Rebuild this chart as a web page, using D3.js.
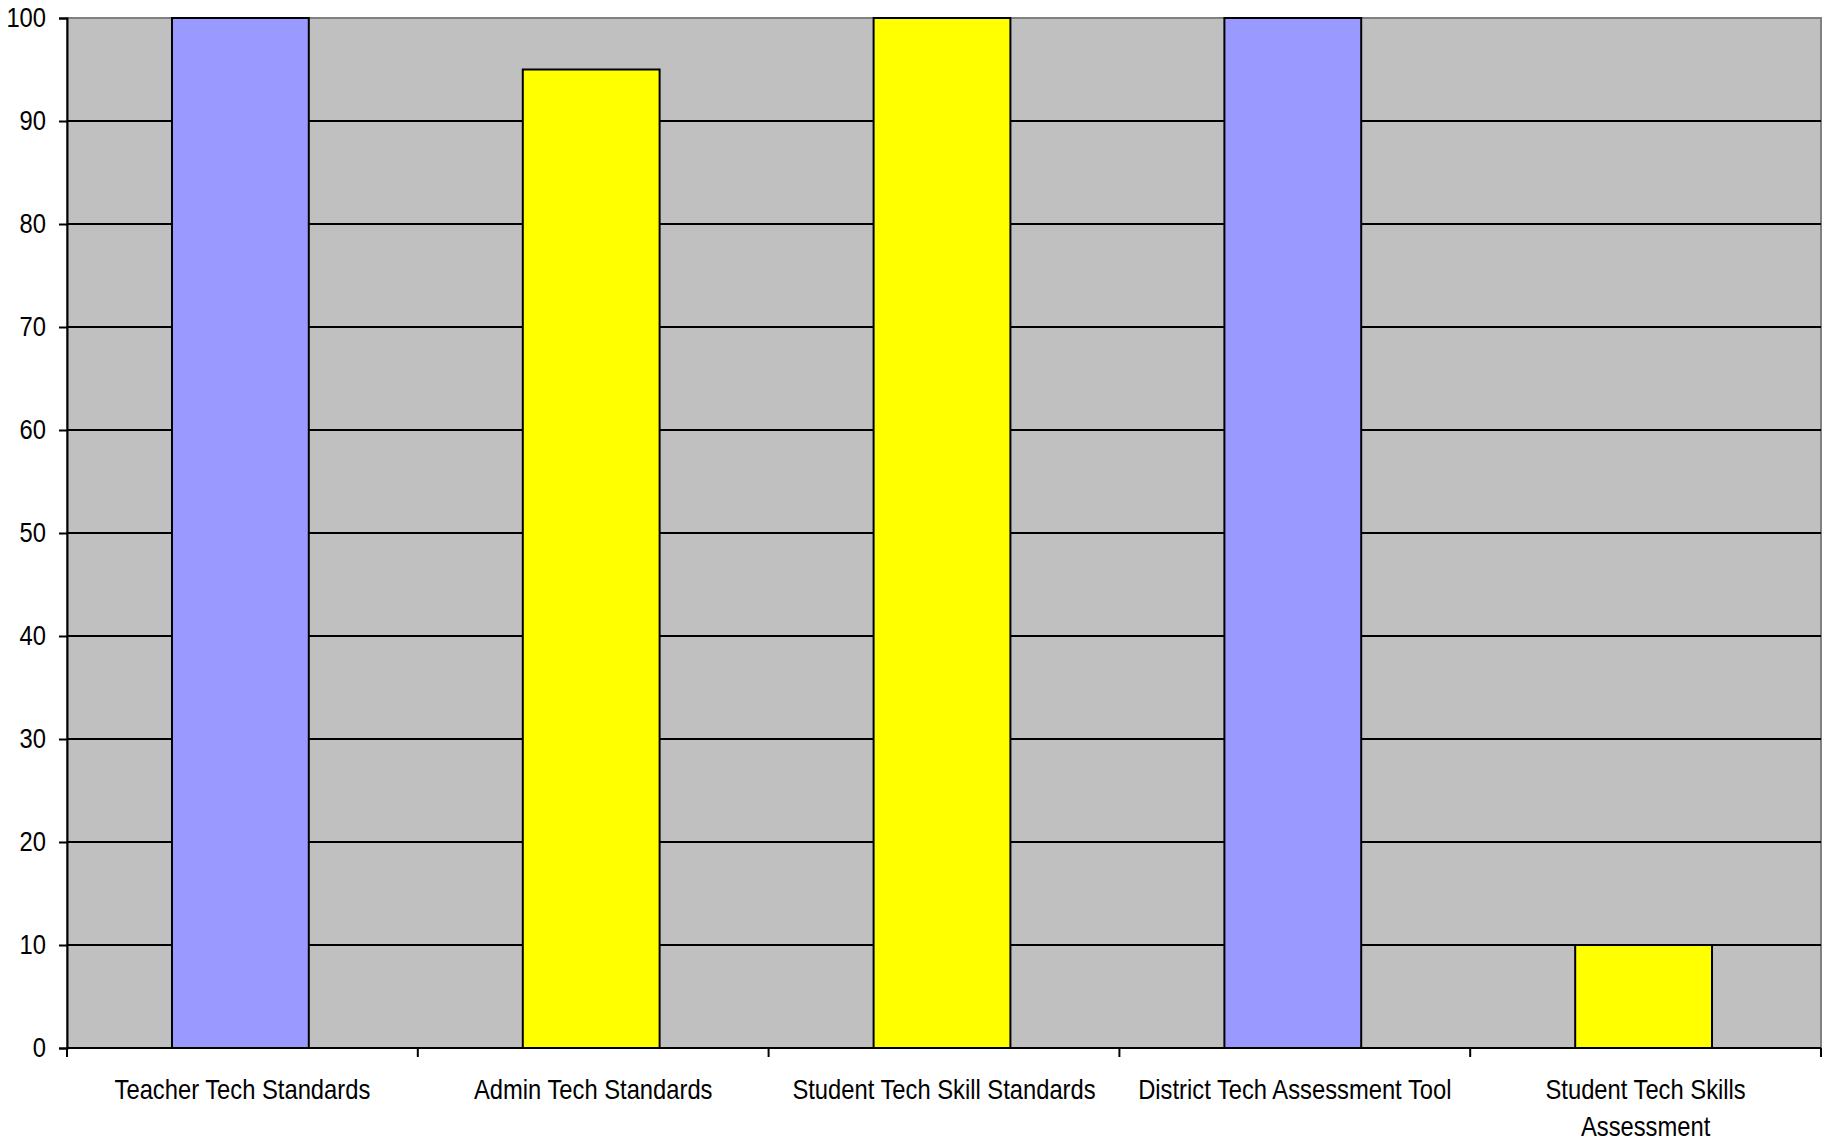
<!DOCTYPE html>
<html>
<head>
<meta charset="utf-8">
<script src="https://cdn.jsdelivr.net/npm/d3@7"></script>
<style>
	body { margin: 0; background: #fff; }
	text { font-family: "Liberation Sans", Arial, sans-serif; fill: #000; }
</style>
</head>
<body>
<svg id="chart"></svg>
<script>
const categories = [
	["Teacher Tech Standards"],
	["Admin Tech Standards"],
	["Student Tech Skill Standards"],
	["District Tech Assessment Tool"],
	["Student Tech Skills", "Assessment"]
];
const values = [100, 95, 100, 100, 10];
const barColors = ["#9999ff", "#ffff00", "#ffff00", "#9999ff", "#ffff00"];
const yTicks = [0, 10, 20, 30, 40, 50, 60, 70, 80, 90, 100];

const w = 1825, h = 1142;
const mLeft = 67, mRight = 1821, mTop = 18, mBottom = 1048;
const squeeze = 0.88; // the original font is narrow

const svg = d3.select("#chart")
	.attr("width", w)
	.attr("height", h);

const x = d3.scaleBand()
	.domain(d3.range(categories.length))
	.range([mLeft, mRight])
	.padding(0);

const y = d3.scaleLinear()
	.domain([0, 100])
	.range([mBottom, mTop]);

// plot background
svg.append("rect")
	.attr("x", mLeft)
	.attr("y", mTop)
	.attr("width", mRight - mLeft)
	.attr("height", mBottom - mTop)
	.attr("fill", "#c0c0c0")
	.attr("stroke", "#808080")
	.attr("stroke-width", 2);

// gridlines
svg.append("g")
	.selectAll("line")
	.data(yTicks.filter(d => d > 0 && d < 100))
	.enter()
	.append("line")
	.attr("x1", mLeft)
	.attr("x2", mRight)
	.attr("y1", d => y(d))
	.attr("y2", d => y(d))
	.attr("stroke", "#000")
	.attr("stroke-width", 2);

// bars
const bw = x.bandwidth() * 0.39;
svg.append("g")
	.selectAll("rect")
	.data(values)
	.enter()
	.append("rect")
	.attr("x", (d, i) => x(i) + (x.bandwidth() - bw) / 2 - 2)
	.attr("y", d => y(d))
	.attr("width", bw)
	.attr("height", d => mBottom - y(d))
	.attr("fill", (d, i) => barColors[i])
	.attr("stroke", "#000")
	.attr("stroke-width", 2);

// y axis
const yAxis = svg.append("g")
	.attr("transform", `translate(${mLeft},0)`)
	.call(d3.axisLeft(y).tickValues(yTicks).tickSize(8).tickPadding(13));
yAxis.select(".domain").attr("stroke", "#000").attr("stroke-width", 2);
yAxis.selectAll(".tick line").attr("stroke", "#000").attr("stroke-width", 2);
yAxis.selectAll(".tick text")
	.attr("font-size", "27px")
	.attr("font-family", null)
	.attr("fill", "#000")
	.attr("transform", `translate(-21,0) scale(${squeeze},1) translate(21,0)`);

// x axis line and ticks at band edges
svg.append("line")
	.attr("x1", mLeft)
	.attr("x2", mRight)
	.attr("y1", mBottom)
	.attr("y2", mBottom)
	.attr("stroke", "#000")
	.attr("stroke-width", 2);

svg.append("g")
	.selectAll("line")
	.data(d3.range(categories.length + 1))
	.enter()
	.append("line")
	.attr("x1", i => i < categories.length ? x(i) : mRight)
	.attr("x2", i => i < categories.length ? x(i) : mRight)
	.attr("y1", mBottom)
	.attr("y2", mBottom + 9)
	.attr("stroke", "#000")
	.attr("stroke-width", 2);

// category labels
const labels = svg.append("g")
	.selectAll("text")
	.data(categories)
	.enter()
	.append("text")
	.attr("text-anchor", "middle")
	.attr("font-size", "27px")
	.attr("transform", (d, i) => `translate(${x(i) + x.bandwidth() / 2},1099) scale(${squeeze},1)`);

labels.selectAll("tspan")
	.data(d => d)
	.enter()
	.append("tspan")
	.attr("x", 0)
	.attr("dy", (d, i) => i === 0 ? 0 : 37)
	.text(d => d);
</script>
</body>
</html>
